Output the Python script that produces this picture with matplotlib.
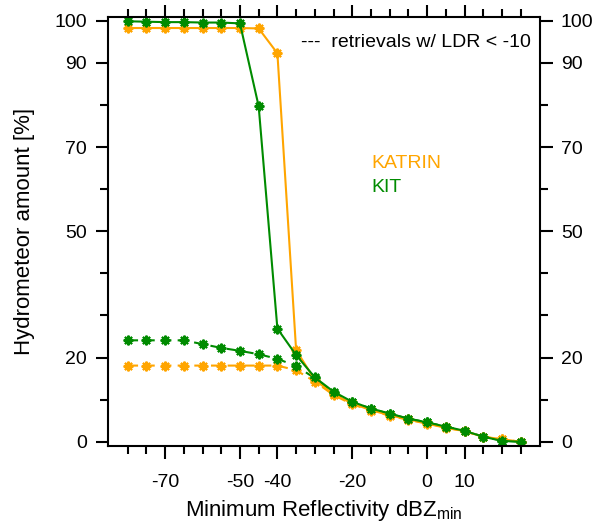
import numpy as np
import matplotlib.pyplot as plt

plt.rcParams['font.family'] = ['Liberation Sans', 'DejaVu Sans']
plt.rcParams['axes.unicode_minus'] = False

# minimum reflectivity thresholds [dBZ]
dbz = np.arange(-80, 26, 5)

# hydrometeor amount [%]
katrin_all = [98.3, 98.3, 98.3, 98.3, 98.3, 98.3, 98.3, 98.2, 92.3, 21.8, 14.7,
              11.3, 9.1, 7.5, 6.3, 5.3, 4.4, 3.4, 2.5, 1.2, 0.6, 0.0]
kit_all = [99.9, 99.8, 99.7, 99.7, 99.6, 99.6, 99.4, 79.7, 26.9, 20.6, 15.3,
           11.9, 9.5, 7.9, 6.7, 5.5, 4.6, 3.6, 2.6, 1.2, 0.2, 0.0]
katrin_ldr = [18.1, 18.1, 18.1, 18.1, 18.1, 18.1, 18.1, 18.1, 18.1, 17.0, 14.3,
              11.1, 8.9, 7.4, 6.2, 5.2, 4.3, 3.3, 2.5, 1.2, 0.6, 0.0]
kit_ldr = [24.1, 24.1, 24.1, 24.1, 23.2, 22.3, 21.6, 20.8, 19.7, 18.0, 15.1,
           11.6, 9.4, 7.9, 6.6, 5.5, 4.6, 3.6, 2.6, 1.2, 0.3, 0.0]

xticks_major = [-70, -50, -40, -20, 0, 10]
yticks_major = [0, 20, 50, 70, 90, 100]

c_katrin = '#FFA500'
c_kit = '#008B00'
mk = (8, 2, 0)

fig = plt.figure(figsize=(5.98, 5.32), dpi=100)
ax = fig.add_axes([0.1806, 0.1617, 0.7224, 0.807])

ax.plot(dbz, katrin_ldr, color=c_katrin, ls=(0, (5, 3)), lw=1.5, marker=mk, ms=7, mew=1.5)
ax.plot(dbz, kit_ldr, color=c_kit, ls=(0, (5, 3)), lw=1.5, marker=mk, ms=7, mew=1.5)
ax.plot(dbz, katrin_all, color=c_katrin, ls='-', lw=1.5, marker=mk, ms=7, mew=1.5)
ax.plot(dbz, kit_all, color=c_kit, ls='-', lw=1.5, marker=mk, ms=7, mew=1.5)

ax.set_xlim(-85.25, 30.15)
ax.set_ylim(-1.0, 101.0)

ax.set_xticks(xticks_major)
ax.set_xticks(np.arange(-80, 26, 5), minor=True)
ax.set_yticks(yticks_major)
ax.set_yticks(np.arange(0, 101, 10), minor=True)

ax.tick_params(which='both', direction='out', top=True, right=True,
               labelright=True, labelsize=14, width=1.5)
ax.tick_params(which='major', length=9, pad=6)
ax.tick_params(which='minor', length=6)
ax.tick_params(axis='x', which='major', pad=11)
for s in ax.spines.values():
    s.set_linewidth(1.5)

ax.set_xlabel(r'Minimum Reflectivity dBZ$_{\mathregular{min}}$', fontsize=16, labelpad=5)
ax.set_ylabel('Hydrometeor amount [%]', fontsize=16, labelpad=14)

ax.text(0.98, 0.94, '---  retrievals w/ LDR < -10', transform=ax.transAxes,
        ha='right', va='center', fontsize=14)
ax.text(0.609, 0.657, 'KATRIN', transform=ax.transAxes, color=c_katrin,
        ha='left', va='center', fontsize=14)
ax.text(0.609, 0.603, 'KIT', transform=ax.transAxes, color=c_kit,
        ha='left', va='center', fontsize=14)

fig.savefig('out.png', dpi=100)
